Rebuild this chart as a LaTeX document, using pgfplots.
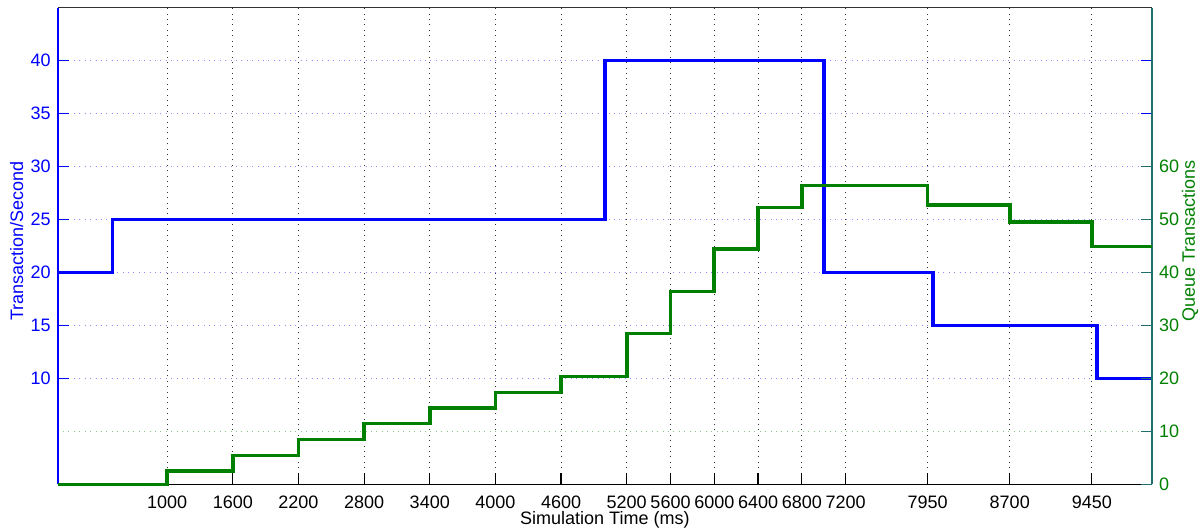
\documentclass[border=0pt]{standalone}
\usepackage{pgfplots}
\pgfplotsset{compat=1.18}
\usepackage{fontspec}
\setmainfont{Liberation Sans}
\definecolor{mblue}{RGB}{0,0,255}
\definecolor{mgreen}{RGB}{0,128,0}
\definecolor{mteal}{RGB}{30,110,110}
\definecolor{gridblue}{RGB}{140,140,255}
\definecolor{gridgreen}{RGB}{130,200,130}
\newcommand{\lblfont}{\fontsize{9}{10.8}\selectfont}
\begin{document}
\begin{tikzpicture}[font=\lblfont]
\pgfplotsset{
  base/.style={
    scale only axis, width=547.15pt, height=238.4pt,
    xmin=0, xmax=10000,
    scaled x ticks=false, scaled y ticks=false,
    axis line style={draw=none},
    tick align=inside, major tick length=5.5pt,
    /pgf/number format/assume math mode=true,
    tick label style={font=\lblfont},
    clip=false,
  }
}
\begin{axis}[base, name=ax,
  ymin=0, ymax=45,
  xtick={1000,1600,2200,2800,3400,4000,4600,5200,5600,6000,6400,6800,7200,7950,8700,9450},
  xticklabels={1000,1600,2200,2800,3400,4000,4600,5200,5600,6000,6400,6800,7200,7950,8700,9450},
  xtick pos=left, ytick pos=both, yticklabel pos=left,
  ytick={10,15,20,25,30,35,40},
  xticklabel style={yshift=-2.0pt, black},
  yticklabel style={mblue},
  xtick style={black, line width=0.6pt},
  ytick style={mblue, line width=0.6pt},
  xmajorgrids, ymajorgrids,
  x grid style={black!80, dash pattern=on 0.5pt off 2.2pt, line width=0.5pt},
  y grid style={gridblue, dash pattern=on 0.5pt off 2.2pt, line width=0.5pt},
  extra y ticks={5},
  extra y tick labels={},
  extra y tick style={major tick length=0pt, y grid style={gridgreen, dash pattern=on 0.5pt off 2.2pt, line width=0.5pt}},
]
\addplot[const plot, mblue, line width=1.8pt] coordinates {
(0,20) (500,25) (5000,40) (7000,20) (8000,15) (9500,10) (10000,10)};
\end{axis}
\draw[black, line width=0.7pt] (ax.south west) -- (ax.south east);
\draw[black!80, line width=0.7pt] (ax.north west) -- (ax.north east);
\draw[mteal, line width=0.7pt] (ax.south east) -- (ax.north east);
\draw[mblue, line width=1pt] (ax.south west) -- (ax.north west);
\begin{axis}[base, at={(ax.south west)}, anchor=south west,
  ymin=0, ymax=90,
  ytick={0,10,20,30,40,50,60},
  ytick pos=right, yticklabel pos=right,
  xtick=\empty,
  yticklabel style={mgreen},
  ytick style={mteal, line width=0.6pt},
]
\addplot[const plot, mgreen, line width=1.8pt] coordinates {
(0,0) (1000,2.6) (1600,5.5) (2200,8.5) (2800,11.5) (3400,14.4) (4000,17.4) (4600,20.4)
(5200,28.5) (5600,36.4) (6000,44.4) (6400,52.3) (6800,56.4) (7950,52.8) (8700,49.6) (9450,44.9) (10000,44.9)};
\end{axis}
\node[mblue, rotate=90] at ([xshift=-20.5pt, yshift=2.5pt]ax.west) {Transaction/Second};
\node[mgreen, rotate=90] at ([xshift=19pt, yshift=2.5pt]ax.east) {Queue Transactions};
\node[black] at ([yshift=-17.6pt]ax.south) {Simulation Time (ms)};
\pgfresetboundingbox
\path ([shift={(-28.85pt,-23.25pt)}]ax.south west) rectangle ([shift={(26pt,3.85pt)}]ax.north east);
\end{tikzpicture}
\end{document}
